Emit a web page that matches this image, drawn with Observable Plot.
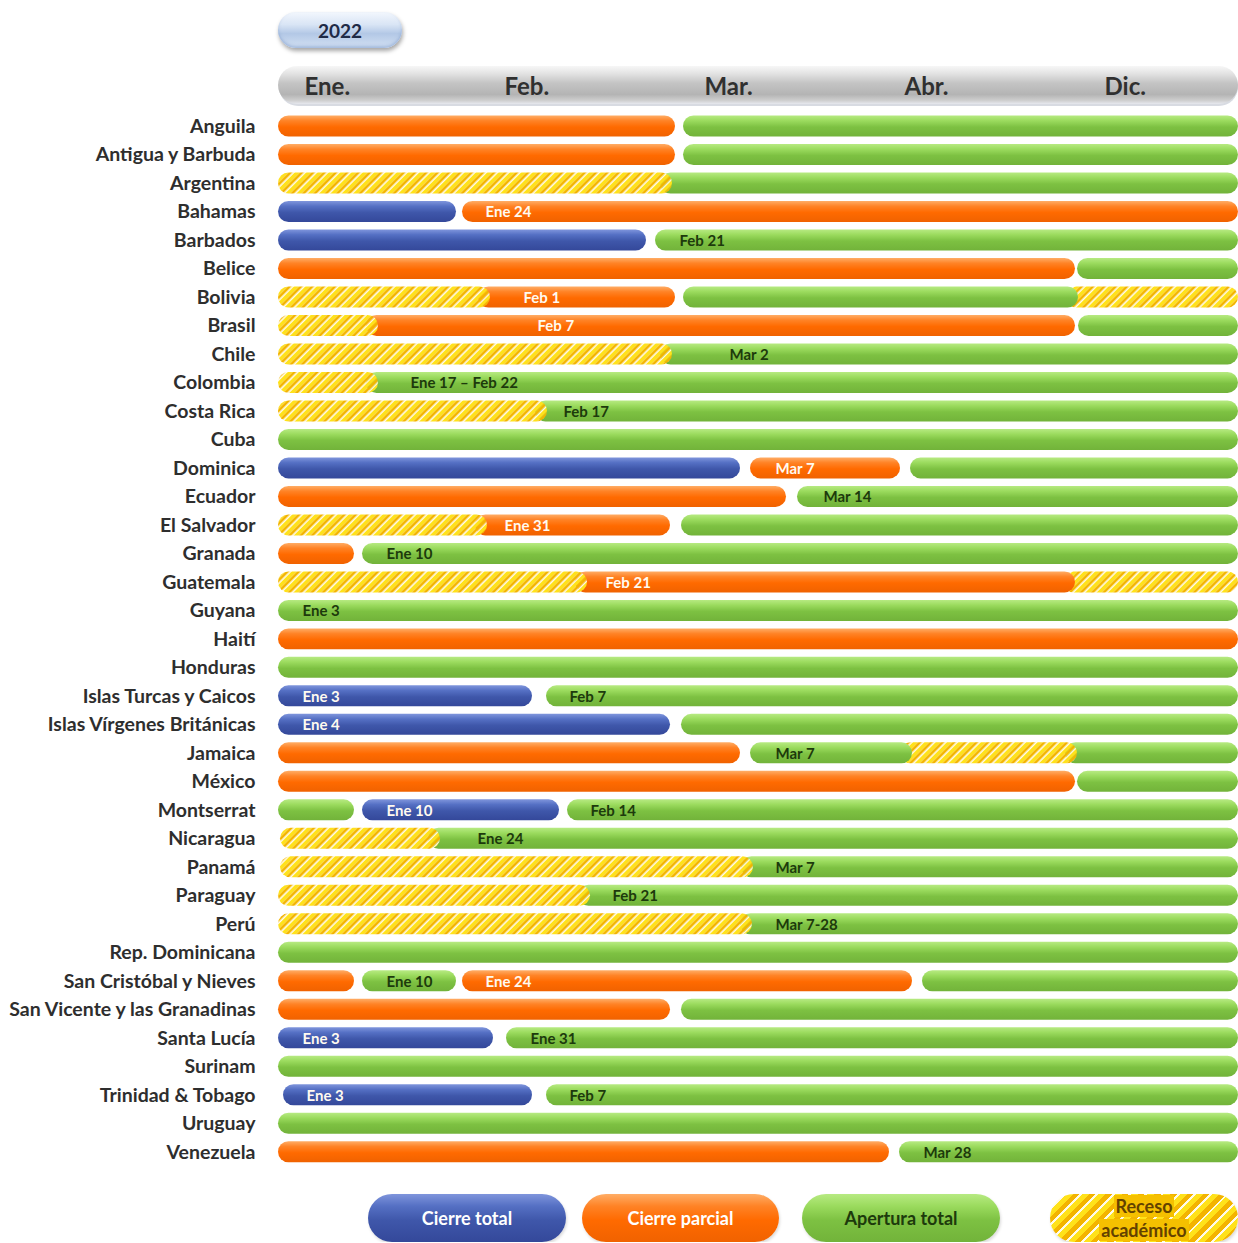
<!DOCTYPE html>
<html><head><meta charset="utf-8">
<script src="https://cdn.jsdelivr.net/npm/d3@7"></script>
<script src="https://cdn.jsdelivr.net/npm/@observablehq/plot@0.6"></script>
<style>
body{margin:0;background:#fff;font-family:Lato,"Open Sans",sans-serif;}
#wrap{position:relative;width:1238px;}
#top{position:relative;height:60px;}
.year{position:absolute;left:278px;top:12px;width:124px;height:36px;border-radius:18px;
 background:linear-gradient(#f3f7fd,#d9e5f5 35%,#b3c8e6 60%,#d3e1f3);
 box-shadow:1px 3px 4px rgba(0,0,0,.35), inset 0 -2px 3px rgba(120,150,200,.5);
 display:flex;align-items:center;justify-content:center;font-weight:700;font-size:19px;color:#1f2b47;}
#chart svg{display:block;}
#chart g[aria-label="y-axis tick label"] text{font-weight:700;}
#chart g[aria-label="x-axis tick label"] text{font-weight:700;}
#legend{position:relative;height:62px;}
.pill{position:absolute;top:14px;height:48px;border-radius:24px;display:flex;align-items:center;justify-content:center;
 font-weight:700;font-size:18px;text-align:center;line-height:24px;box-shadow:1px 2px 3px rgba(0,0,0,.15);}
.pill span.bg{background:#f5c000;padding:0 2px;color:#634200;}
</style></head><body>
<svg width="0" height="0" style="position:absolute">
 <defs>
  <linearGradient id="gBlue" x1="0" y1="0" x2="0" y2="1">
   <stop offset="0" stop-color="#7f95dc"/><stop offset="0.25" stop-color="#5570c4"/>
   <stop offset="0.55" stop-color="#3f57aa"/><stop offset="1" stop-color="#34489a"/>
  </linearGradient>
  <linearGradient id="gOrange" x1="0" y1="0" x2="0" y2="1">
   <stop offset="0" stop-color="#ffad66"/><stop offset="0.25" stop-color="#ff8326"/>
   <stop offset="0.55" stop-color="#ff6a00"/><stop offset="1" stop-color="#f06200"/>
  </linearGradient>
  <linearGradient id="gGreen" x1="0" y1="0" x2="0" y2="1">
   <stop offset="0" stop-color="#b7ea82"/><stop offset="0.25" stop-color="#9bdb5e"/>
   <stop offset="0.55" stop-color="#7dc142"/><stop offset="1" stop-color="#72b33a"/>
  </linearGradient>
  <linearGradient id="gHeader" x1="0" y1="0" x2="0" y2="1">
   <stop offset="0" stop-color="#f7f7f7"/><stop offset="0.2" stop-color="#e3e3e3"/>
   <stop offset="0.45" stop-color="#c4c4c4"/><stop offset="0.75" stop-color="#b4b4b4"/>
   <stop offset="0.9" stop-color="#cdcdcd"/><stop offset="1" stop-color="#e6e8ee"/>
  </linearGradient>
  <pattern id="hatch" patternUnits="userSpaceOnUse" width="8" height="8" patternTransform="rotate(45)">
   <rect x="0" y="0" width="3.6" height="8" fill="#ffe21a"/>
   <rect x="3.6" y="0" width="3" height="8" fill="#f3b400"/>
   <rect x="6.6" y="0" width="1.4" height="8" fill="#fffbe8"/>
  </pattern>
 </defs>
</svg>
<div id="wrap">
 <div id="top"><div class="year" id="year"></div></div>
 <div id="chart"></div>
 <div id="legend"></div>
</div>
<script>
const yearLabel = "2022";
const monthTicks = [0, 1, 2, 3, 4];
const monthLabels = ["Ene.", "Feb.", "Mar.", "Abr.", "Dic."];
const xMax = 4.8;

const statusTypes = ["ct", "cp", "at", "ra"];
const statusNames = ["Cierre total", "Cierre parcial", "Apertura total", "Receso académico"];
const statusFills = ["url(#gBlue)", "url(#gOrange)", "url(#gGreen)", "url(#hatch)"];

const countries = ["Anguila","Antigua y Barbuda","Argentina","Bahamas","Barbados","Belice","Bolivia","Brasil","Chile","Colombia","Costa Rica","Cuba","Dominica","Ecuador","El Salvador","Granada","Guatemala","Guyana","Haití","Honduras","Islas Turcas y Caicos","Islas Vírgenes Británicas","Jamaica","México","Montserrat","Nicaragua","Panamá","Paraguay","Perú","Rep. Dominicana","San Cristóbal y Nieves","San Vicente y las Granadinas","Santa Lucía","Surinam","Trinidad & Tobago","Uruguay","Venezuela"];

// [country, status, start, end] in months from 1 Jan (axis units)
const segments = [
 ["Anguila","cp",0,1.985],["Anguila","at",2.025,4.8],
 ["Antigua y Barbuda","cp",0,1.985],["Antigua y Barbuda","at",2.025,4.8],
 ["Argentina","ra",0,1.97],["Argentina","at",1.97,4.8],
 ["Bahamas","ct",0,0.89],["Bahamas","cp",0.92,4.8],
 ["Barbados","ct",0,1.84],["Barbados","at",1.885,4.8],
 ["Belice","cp",0,3.985],["Belice","at",3.995,4.8],
 ["Bolivia","ra",0,1.06],["Bolivia","cp",1.06,1.985],["Bolivia","at",2.025,4.0],["Bolivia","ra",4.0,4.8],
 ["Brasil","ra",0,0.5],["Brasil","cp",0.5,3.985],["Brasil","at",4.0,4.8],
 ["Chile","ra",0,1.97],["Chile","at",1.97,4.8],
 ["Colombia","ra",0,0.5],["Colombia","at",0.5,4.8],
 ["Costa Rica","ra",0,1.345],["Costa Rica","at",1.345,4.8],
 ["Cuba","at",0,4.8],
 ["Dominica","ct",0,2.31],["Dominica","cp",2.36,3.11],["Dominica","at",3.16,4.8],
 ["Ecuador","cp",0,2.54],["Ecuador","at",2.595,4.8],
 ["El Salvador","ra",0,1.045],["El Salvador","cp",1.045,1.96],["El Salvador","at",2.015,4.8],
 ["Granada","cp",0,0.38],["Granada","at",0.42,4.8],
 ["Guatemala","ra",0,1.545],["Guatemala","cp",1.545,3.985],["Guatemala","ra",3.985,4.8],
 ["Guyana","at",0,4.8],
 ["Haití","cp",0,4.8],
 ["Honduras","at",0,4.8],
 ["Islas Turcas y Caicos","ct",0,1.27],["Islas Turcas y Caicos","at",1.34,4.8],
 ["Islas Vírgenes Británicas","ct",0,1.96],["Islas Vírgenes Británicas","at",2.015,4.8],
 ["Jamaica","cp",0,2.31],["Jamaica","at",2.36,3.17],["Jamaica","ra",3.17,3.995],["Jamaica","at",3.995,4.8],
 ["México","cp",0,3.985],["México","at",3.995,4.8],
 ["Montserrat","at",0,0.38],["Montserrat","ct",0.42,1.405],["Montserrat","at",1.445,4.8],
 ["Nicaragua","ra",0.01,0.81],["Nicaragua","at",0.81,4.8],
 ["Panamá","ra",0.01,2.375],["Panamá","at",2.375,4.8],
 ["Paraguay","ra",0,1.56],["Paraguay","at",1.56,4.8],
 ["Perú","ra",0,2.37],["Perú","at",2.37,4.8],
 ["Rep. Dominicana","at",0,4.8],
 ["San Cristóbal y Nieves","cp",0,0.38],["San Cristóbal y Nieves","at",0.42,0.89],["San Cristóbal y Nieves","cp",0.92,3.17],["San Cristóbal y Nieves","at",3.22,4.8],
 ["San Vicente y las Granadinas","cp",0,1.96],["San Vicente y las Granadinas","at",2.015,4.8],
 ["Santa Lucía","ct",0,1.075],["Santa Lucía","at",1.14,4.8],
 ["Surinam","at",0,4.8],
 ["Trinidad & Tobago","ct",0.025,1.27],["Trinidad & Tobago","at",1.34,4.8],
 ["Uruguay","at",0,4.8],
 ["Venezuela","cp",0,3.055],["Venezuela","at",3.105,4.8]
];

// [country, text, position in months]
const dateLabels = [
 ["Bahamas","Ene 24",1.035],["Barbados","Feb 21",2.005],["Bolivia","Feb 1",1.225],["Brasil","Feb 7",1.295],
 ["Chile","Mar 2",2.255],["Colombia","Ene 17 – Feb 22",0.66],["Costa Rica","Feb 17",1.425],
 ["Dominica","Mar 7",2.485],["Ecuador","Mar 14",2.725],["El Salvador","Ene 31",1.13],["Granada","Ene 10",0.54],
 ["Guatemala","Feb 21",1.635],["Guyana","Ene 3",0.12],["Islas Turcas y Caicos","Ene 3",0.12],["Islas Turcas y Caicos","Feb 7",1.455],
 ["Islas Vírgenes Británicas","Ene 4",0.12],["Jamaica","Mar 7",2.485],["Montserrat","Ene 10",0.54],["Montserrat","Feb 14",1.56],
 ["Nicaragua","Ene 24",0.995],["Panamá","Mar 7",2.485],["Paraguay","Feb 21",1.67],["Perú","Mar 7-28",2.485],
 ["San Cristóbal y Nieves","Ene 10",0.54],["San Cristóbal y Nieves","Ene 24",1.035],
 ["Santa Lucía","Ene 3",0.12],["Santa Lucía","Ene 31",1.26],["Trinidad & Tobago","Ene 3",0.14],["Trinidad & Tobago","Feb 7",1.455],
 ["Venezuela","Mar 28",3.225]
];

document.getElementById("year").textContent = yearLabel;

// build tables
const segs = segments.map(([country, type, x1, x2], i) => {
  const prev = segments[i - 1];
  const joined = prev && prev[0] === country && prev[3] === x1;
  return {country, type, x1, x2, drawX1: joined ? x1 - 0.06 : x1};
}).sort((a, b) => b.x1 - a.x1);

const labs = dateLabels.map(([country, text, at]) => {
  const s = segments.find(d => d[0] === country && d[2] <= at && d[3] >= at);
  return {country, text, at, type: s ? s[1] : "at"};
});

const plot = Plot.plot({
  width: 1238,
  height: 1120,
  marginLeft: 278,
  marginRight: 0,
  marginTop: 51.75,
  marginBottom: 14,
  style: {fontFamily: "Lato, 'Open Sans', sans-serif", background: "transparent", overflow: "visible"},
  x: {domain: [0, xMax]},
  y: {domain: countries, padding: 0, round: false},
  color: {type: "ordinal", domain: statusTypes, range: statusFills},
  marks: [
    Plot.barX(segs, {x1: "drawX1", x2: "x2", y: "country", fill: "type", rx: 10.5, insetTop: 3.75, insetBottom: 3.75}),
    Plot.text(labs.filter(d => d.type !== "at"), {x: "at", y: "country", text: "text", textAnchor: "start", fill: "#fffaf0", fontSize: 15, fontWeight: 700, dy: 0.5}),
    Plot.text(labs.filter(d => d.type === "at"), {x: "at", y: "country", text: "text", textAnchor: "start", fill: "#1d3a0c", fontSize: 15, fontWeight: 700, dy: 0.5}),
    Plot.axisY({tickSize: 0, tickPadding: 23, fontSize: 19.5, fill: "#2e2e2e", label: null}),
    Plot.axisX(monthTicks, {anchor: "top", tickSize: 0, tickPadding: 17, tickFormat: d => monthLabels[monthTicks.indexOf(d)], textAnchor: "start", dx: 26, fontSize: 24, fill: "#303030", label: null})
  ]
});
document.getElementById("chart").appendChild(plot);

// header band behind month labels
const xs = plot.scale("x");
const x0 = xs.apply(0), x1 = xs.apply(xMax);
const svg = d3.select(plot);
const hdr = svg.insert("g", "g");
hdr.append("rect").attr("x", x0 + 1).attr("y", 8).attr("width", x1 - x0 - 1).attr("height", 38).attr("rx", 19).attr("fill", "#c8ccd6").attr("opacity", 0.7);
hdr.append("rect").attr("x", x0).attr("y", 6).attr("width", x1 - x0).attr("height", 38).attr("rx", 19).attr("fill", "url(#gHeader)");

// legend
const legendPos = [[368,198],[582,197],[802,198],[1050,188]];
const legendStyle = [
  ["linear-gradient(#7f95dc,#5570c4 25%,#3f57aa 55%,#34489a)", "#fff"],
  ["linear-gradient(#ffad66,#ff8326 25%,#ff6a00 55%,#f06200)", "#fff"],
  ["linear-gradient(#b7ea82,#9bdb5e 25%,#7dc142 55%,#72b33a)", "#1d3a0c"],
  ["repeating-linear-gradient(135deg,#ffe21a 0 5px,#f3b400 5px 9.5px,#fffbe8 9.5px 11.5px)", "#634200"]
];
const leg = d3.select("#legend");
statusTypes.forEach((t, i) => {
  const p = leg.append("div").attr("class", "pill")
    .style("left", legendPos[i][0] + "px").style("width", legendPos[i][1] + "px")
    .style("background", legendStyle[i][0]).style("color", legendStyle[i][1]);
  if (t === "ra") {
    const words = statusNames[i].split(" ");
    p.html(`<div><span class="bg">${words[0]}</span><br><span class="bg">${words[1]}</span></div>`);
  } else p.text(statusNames[i]);
});
</script>
</body></html>
